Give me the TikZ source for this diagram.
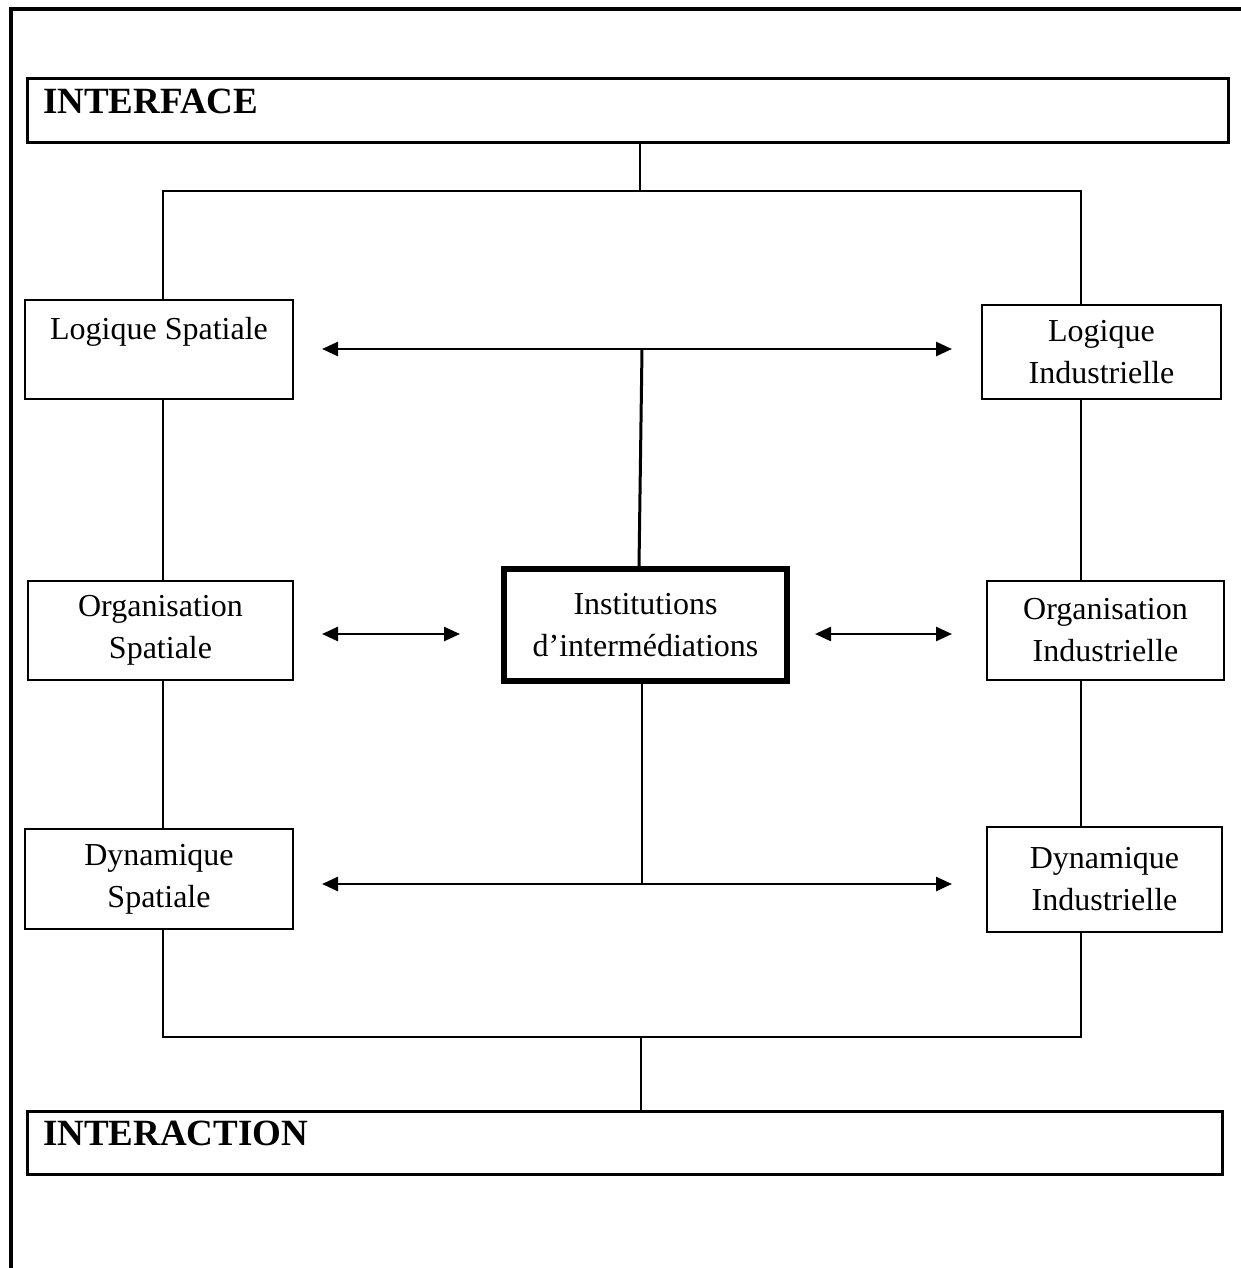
\documentclass[tikz,border=0pt]{standalone}
\usepackage{fontspec}
\setmainfont{Liberation Serif}
\usetikzlibrary{arrows.meta}

\begin{document}
\begin{tikzpicture}[x=1pt,y=-1pt,
  box/.style={draw,line width=2pt,align=center,inner sep=0pt,font=\fontsize{32}{42}\selectfont},
  titlebox/.style={draw,line width=3pt,anchor=north west,align=left,inner xsep=16pt,inner ysep=10pt,
    text depth=19pt,font=\fontsize{37}{40}\selectfont\bfseries},
  link/.style={line width=2pt},
  dbl/.style={{Triangle[length=16pt,width=14pt]}-{Triangle[length=16pt,width=14pt]},line width=2.5pt}]
  \useasboundingbox (0,0) rectangle (1241,1268);
  % page frame (only top and left edges show)
  \draw[line width=4pt] (11,1268) -- (11,9) -- (1241,9);
  % titles
  \node[titlebox,text width=1169pt] (ifc) at (25.5,77.5) {INTERFACE};
  \node[titlebox,text width=1163pt] (ita) at (25.5,1109.5) {INTERACTION};
  % spatial side
  \node[box,minimum width=268pt,minimum height=99pt] (ls) at (159,349.5) {Logique Spatiale\\\mbox{}};
  \node[box,minimum width=265pt,minimum height=99pt] (os) at (160.5,630.5) {Organisation\\Spatiale};
  \node[box,minimum width=268pt,minimum height=100pt] (ds) at (159,879) {Dynamique\\Spatiale};
  % industrial side
  \node[box,minimum width=239pt,minimum height=94pt] (li) at (1101.5,352) {Logique\\Industrielle};
  \node[box,minimum width=237pt,minimum height=99pt] (oi) at (1105.5,630.5) {Organisation\\Industrielle};
  \node[box,minimum width=235pt,minimum height=105pt] (di) at (1104.5,879.5) {Dynamique\\Industrielle};
  % centre
  \node[box,line width=6pt,minimum width=283pt,minimum height=112pt] (inst) at (645.5,625) {Institutions\\d’intermédiations};
  % loop corners and arrow ends
  \coordinate (tl) at (163,191);  \coordinate (tr) at (1081,191);
  \coordinate (bl) at (163,1037); \coordinate (br) at (1081,1037);
  \coordinate (tc) at (640,191);  \coordinate (bc) at (641,1037);
  \coordinate (a1l) at (322,349); \coordinate (a1r) at (952,349); \coordinate (j1) at (642,349);
  \coordinate (a2l) at (322,634); \coordinate (a2m) at (460,634);
  \coordinate (a2n) at (815,634); \coordinate (a2r) at (952,634);
  \coordinate (a3l) at (322,884); \coordinate (a3r) at (952,884); \coordinate (j3) at (642,884);
  % outer loop
  \draw[link] (ifc.south -| tc) -- (tc);
  \draw[link] (ls.north -| tl) -- (tl) -- (tr) -- (li.north -| tr);
  \draw[link] (ls.south -| tl) -- (os.north -| tl);
  \draw[link] (os.south -| tl) -- (ds.north -| tl);
  \draw[link] (li.south -| tr) -- (oi.north -| tr);
  \draw[link] (oi.south -| tr) -- (di.north -| tr);
  \draw[link] (ds.south -| bl) -- (bl) -- (br) -- (di.south -| br);
  \draw[link] (bc) -- (ita.north -| bc);
  % arrows
  \draw[dbl] (a1l) -- (a1r);
  \draw[line width=3pt] (j1) -- ([xshift=-3pt]inst.north -| j1);
  \draw[dbl] (a2l) -- (a2m);
  \draw[dbl] (a2n) -- (a2r);
  \draw[dbl] (a3l) -- (a3r);
  \draw[link] (inst.south -| j3) -- (j3);
\end{tikzpicture}
\end{document}
